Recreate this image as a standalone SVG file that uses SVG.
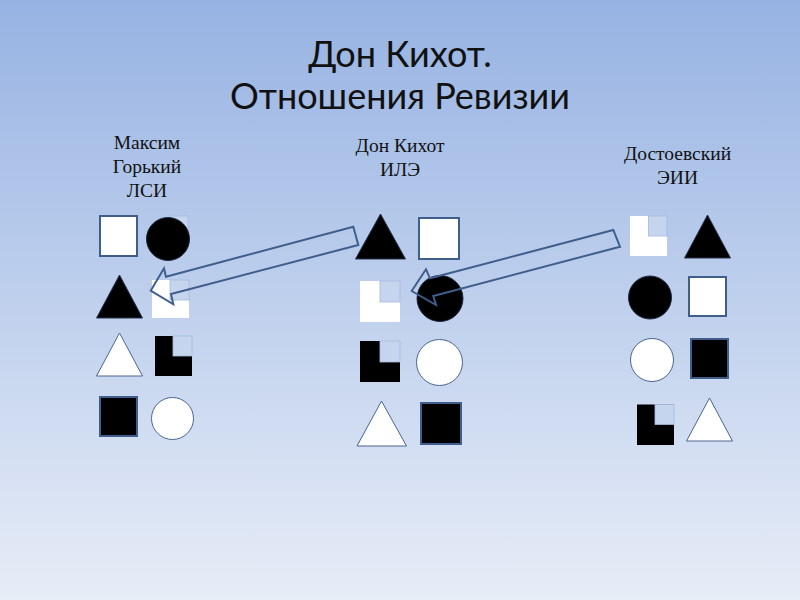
<svg xmlns="http://www.w3.org/2000/svg" width="800" height="600" viewBox="0 0 800 600">
<defs>
<linearGradient id="bg" x1="0" y1="0" x2="0" y2="1">
<stop offset="0" stop-color="#97b3e3"/>
<stop offset="1" stop-color="#e7edf7"/>
</linearGradient>
<style>
.title{font-family:Lato,"Open Sans",sans-serif;font-size:36px;fill:#111;text-anchor:middle}
.lbl{font-family:"Liberation Serif","DejaVu Serif",serif;font-size:19.5px;fill:#111;text-anchor:middle}
.wsq{fill:#fff;stroke:#3f5e8c;stroke-width:2}
.bsq{fill:#000;stroke:#3f5e8c;stroke-width:2}
.bc{fill:#000;stroke:#1c2a44;stroke-width:1}
.wc{fill:#fff;stroke:#4a6590;stroke-width:1}
.bt{fill:#000;stroke:#24324c;stroke-width:1}
.wt{fill:#fff;stroke:#4a6590;stroke-width:1}
.wl{fill:#fff}
.bl{fill:#000}
.q{fill:#c6d5ee;stroke:#a3b9df;stroke-width:0.8}
.arr{fill:none;stroke:#3f5e8c;stroke-width:2;stroke-linejoin:miter}
</style>
</defs>
<rect width="800" height="600" fill="url(#bg)"/>
<g id="title">
<text class="title" x="400" y="67">Дон Кихот.</text>
<text class="title" x="400" y="109">Отношения Ревизии</text>
</g>
<g id="label-gorky">
<text class="lbl" x="147" y="149">Максим</text>
<text class="lbl" x="147" y="172.5">Горький</text>
<text class="lbl" x="147" y="196.5">ЛСИ</text>
</g>
<g id="label-donkihot">
<text class="lbl" x="400" y="152">Дон Кихот</text>
<text class="lbl" x="400" y="176">ИЛЭ</text>
</g>
<g id="label-dostoevsky">
<text class="lbl" x="677.5" y="159.5">Достоевский</text>
<text class="lbl" x="677.5" y="183.5">ЭИИ</text>
</g>
<g id="gorky-col">
<g id="g1"><rect class="wsq" x="100" y="216" width="37" height="40"/></g>
<g id="g2"><rect class="q" x="170" y="216" width="18" height="17"/><circle class="bc" cx="168" cy="239" r="21.5"/></g>
<g id="g3"><polygon class="bt" points="119.5,275 96.5,318 142.5,318"/></g>
<g id="g4"><rect class="wl" x="152" y="280" width="37" height="38"/><rect class="q" x="170" y="280" width="19" height="20"/></g>
<g id="g5"><polygon class="wt" points="119.5,333 96.5,376 142.5,376"/></g>
<g id="g6"><rect class="bl" x="155" y="336" width="37" height="40"/><rect class="q" x="173" y="336" width="19" height="20"/></g>
<g id="g7"><rect class="bsq" x="100" y="397" width="37" height="39"/></g>
<g id="g8"><circle class="wc" cx="172.5" cy="418.5" r="21"/></g>
</g>
<g id="donkihot-col">
<g id="d1"><polygon class="bt" points="380.5,214 355.5,259 405.5,259"/></g>
<g id="d2"><rect class="wsq" x="419" y="218" width="40" height="41"/></g>
<g id="d3"><rect class="wl" x="360" y="281" width="40" height="41"/><rect class="q" x="380" y="281" width="20" height="21"/></g>
<g id="d4"><circle class="bc" cx="440" cy="298.5" r="23"/></g>
<g id="d5"><rect class="bl" x="360" y="341" width="40" height="41"/><rect class="q" x="380" y="341" width="20" height="21"/></g>
<g id="d6"><circle class="wc" cx="439.5" cy="362.5" r="23"/></g>
<g id="d7"><polygon class="wt" points="381.5,401 357,446 406.5,446"/></g>
<g id="d8"><rect class="bsq" x="421" y="403" width="40" height="41"/></g>
</g>
<g id="dostoevsky-col">
<g id="s1"><rect class="wl" x="630" y="216" width="37" height="40"/><rect class="q" x="648.5" y="216" width="18.5" height="20"/></g>
<g id="s2"><polygon class="bt" points="707.5,215 684.5,258 730.5,258"/></g>
<g id="s3"><circle class="bc" cx="650" cy="297.5" r="21.5"/></g>
<g id="s4"><rect class="wsq" x="689" y="277" width="37" height="39"/></g>
<g id="s5"><circle class="wc" cx="652" cy="360" r="21.5"/></g>
<g id="s6"><rect class="bsq" x="691" y="339" width="37" height="39"/></g>
<g id="s7"><rect class="bl" x="637" y="404.5" width="37" height="40.5"/><rect class="q" x="655" y="404.5" width="19" height="20"/></g>
<g id="s8"><polygon class="wt" points="709.5,398 686.5,441 732.5,441"/></g>
</g>
<g id="connectors">
<polygon class="arr" points="150.7,290.7 164,268.3 166,276.7 353.3,226.7 358.3,245 171,294 173.3,304.3"/>
<polygon class="arr" points="411.7,291 426,269.3 430,278.3 613.3,230 620,246.7 433.3,296 436,305"/>
</g>
</svg>
